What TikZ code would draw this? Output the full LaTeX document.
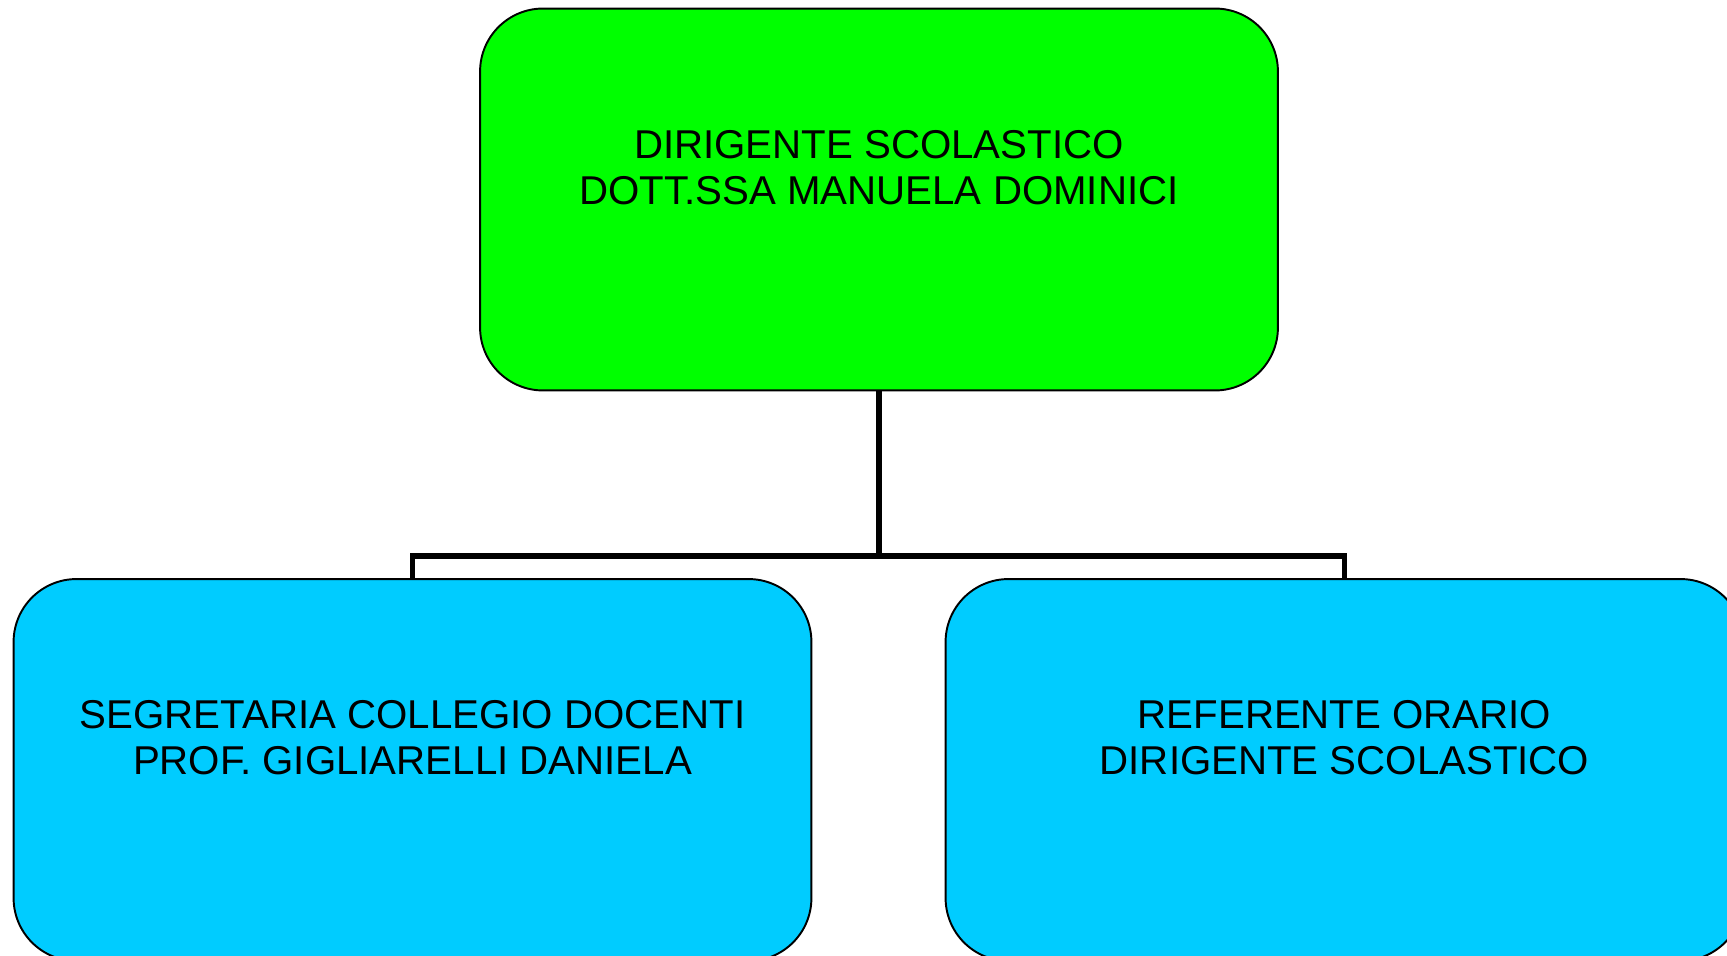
\documentclass[tikz,border=0pt]{standalone}
\usepackage{fontspec}
\setmainfont{Liberation Sans}
\usepackage{tikz}
\usepackage{xcolor}

\begin{document}
\begin{tikzpicture}[x=0.02cm,y=-0.02cm,
  orgbox/.style={draw,line width=1.1pt,rounded corners=1.26cm,minimum width=15.96cm,minimum height=7.64cm},
  orgtext/.style={align=center,font=\fontsize{22.9}{26.2}\selectfont},
  orglink/.style={line width=3.2pt}]
\useasboundingbox (0,0) rectangle (1727,956);
\definecolor{dirgreen}{HTML}{00FF00}
\definecolor{staffblue}{HTML}{00CCFF}
\node [orgbox,fill=dirgreen] (dirigente) at (879,199.5) {};
\node [orgtext] (dirigente-txt) at ([yshift=18.2pt]dirigente.center) {DIRIGENTE SCOLASTICO\\DOTT.SSA MANUELA DOMINICI};
  \foreach \nm/\pos/\txt in {segretaria/412.5/{SEGRETARIA COLLEGIO DOCENTI\\PROF. GIGLIARELLI DANIELA},referente/1344.5/{REFERENTE ORARIO\\DIRIGENTE SCOLASTICO}}
  {  \node [orgbox,fill=staffblue] (\nm) at (\pos,770) {};
     \node [orgtext] (\nm-txt) at ([yshift=18.5pt]\nm.center) {\txt};}
\coordinate (fork) at (dirigente.south |- 0,556);
\draw [orglink] (dirigente.south) -- (fork);
\draw [orglink] (segretaria.north) |- (fork) -| (referente.north);
\end{tikzpicture}
\end{document}
